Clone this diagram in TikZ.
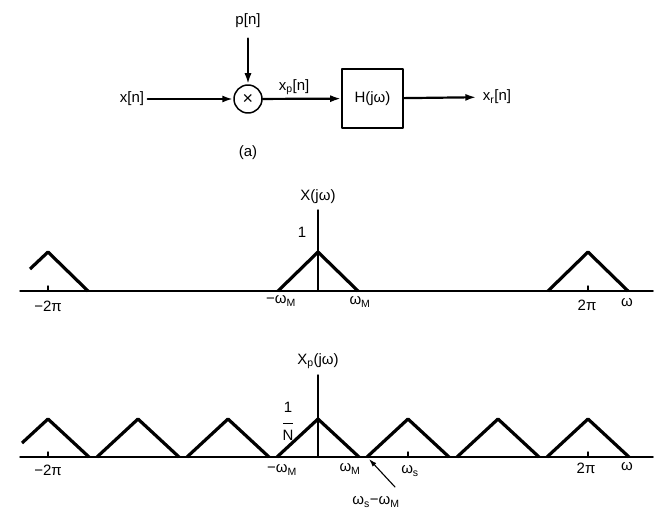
\documentclass[tikz,border=0pt]{standalone}
\usepackage{fontspec}
\setmainfont{Liberation Sans}
\usetikzlibrary{arrows.meta,positioning}

\begin{document}
\begin{tikzpicture}[x=1pt, y=-1pt, >={Latex[length=11pt,width=7pt]}, line join=round, line cap=round, font=\fontsize{15}{17}\selectfont]
		\tikzset{declare function={h=39;w=40;hp=38;wp=41;ya=291;yb=457;},
			sig/.style={line width=3.2pt, line cap=butt},
			ax/.style={line width=1.5pt},
			flow/.style={->, line width=2.2pt}}
		\useasboundingbox (0,0) rectangle (672,511);
		% block diagram (a)
		\node [circle, draw, line width=1.5pt, minimum size=28pt, inner sep=0pt, font=\fontsize{18}{18}\selectfont] (mult) at (248,99) {×};
		\node [draw, line width=1.6pt, minimum width=61pt, minimum height=59pt] (H) at (372.5,98.5) {H(jω)};
		\node (xin) at (132,99) {x[n]};
		\node (pin) at (248,21) {p[n]};
		\node (xr) at (497,97) {x\textsubscript{r}[n]};
		\node (cap) at (248,153) {(a)};
		\draw [flow] (xin) -- (mult);
		\draw [flow, shorten <=7pt] (pin) -- (mult);
		\draw [flow] (mult) -- node [above, pos=0.4] (xp) {x\textsubscript{p}[n]} (H);
		\draw [flow, shorten >=3pt] (H) -- (xr);
		% X(jw)
		\draw [ax] (20,ya)--(653,ya);
		\draw [ax] (318,ya)--(318,210);
		\foreach \x in {48,588}{
			\draw [ax] (\x,ya)--(\x,ya-5);
		}
		\draw [sig] (278,ya)--(318,ya-h)--(358,ya);
		\draw [sig] (548,ya)--(588,ya-h)--(628,ya);
		\draw [sig] (30,ya-h+17)--(48,ya-h)--(88,ya);
		\node (X) at (318,197) {X(jω)};
		\node (one) at (302,232) {1};
		\node (a1) at (48,306) {−2π};
		\node (a2) at (281,301) {−ω\textsubscript{M}};
		\node (a3) at (360,302) {ω\textsubscript{M}};
		\node (a4) at (587,305) {2π};
		\node (a5) at (627,303) {ω};
		% Xp(jw)
		\draw [ax] (20,yb)--(653,yb);
		\draw [ax] (318,yb)--(318,375);
		\foreach \x in {48,408,588}{
			\draw [ax] (\x,yb)--(\x,yb-5);
		}
		\foreach \c in {138,228,...,588}{
			\draw [sig] (\c-wp,yb)--(\c,yb-hp)--(\c+wp,yb);
		}
		\draw [sig] (22,yb-hp+24)--(48,yb-hp)--(48+wp,yb);
		\node (Xp) at (318,361) {X\textsubscript{p}(jω)};
		\node [align=center, inner sep=0pt] (oneN) at (288,421) {1\\[-5pt]\rule{10pt}{1pt}\\[-1pt]N};
		\node (b1) at (48,470) {−2π};
		\node (b2) at (282,470) {−ω\textsubscript{M}};
		\node (b3) at (350,469) {ω\textsubscript{M}};
		\node (b4) at (410,471) {ω\textsubscript{s}};
		\node (b5) at (586,468) {2π};
		\node (b6) at (627,467) {ω};
		\node (wsm) at (376,502) {ω\textsubscript{s}−ω\textsubscript{M}};
		\coordinate (tail) at (395,487);
		\coordinate (head) at (369,459);
		\draw [->, line width=1.1pt, >={Latex[length=8pt,width=5pt]}] (tail) -- (head);
	\end{tikzpicture}
\end{document}
